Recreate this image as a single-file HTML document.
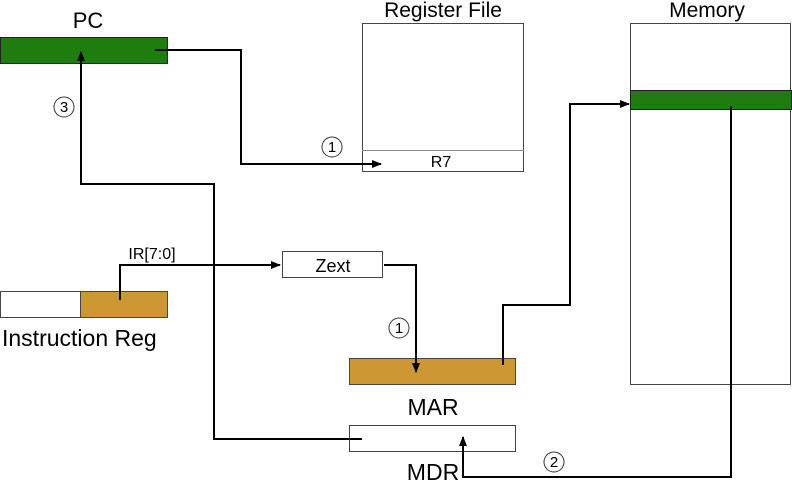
<!DOCTYPE html>
<html><head><meta charset="utf-8"><style>
html,body{margin:0;padding:0;background:#fff;width:792px;height:480px;overflow:hidden}
text{font-family:"Liberation Sans",sans-serif;fill:#000}
</style></head><body>
<svg width="792" height="480" viewBox="0 0 792 480" xmlns="http://www.w3.org/2000/svg">
<defs><marker id="a" markerWidth="10" markerHeight="8" refX="9" refY="4" orient="auto" markerUnits="userSpaceOnUse"><path d="M0,0 L10,4 L0,8 Z" fill="#000"/></marker></defs>
<text x="88" y="28" font-size="22" text-anchor="middle">PC</text>
<rect x="0.5" y="37.5" width="167" height="26" fill="#1e7d0e" stroke="#222"/>
<text x="443" y="17" font-size="21" text-anchor="middle">Register File</text>
<rect x="362.5" y="23.5" width="161" height="148" fill="#fff" stroke="#444"/>
<line x1="362" y1="150.5" x2="524" y2="150.5" stroke="#888"/>
<text x="441" y="167" font-size="16" text-anchor="middle">R7</text>
<text x="707" y="17" font-size="21" text-anchor="middle">Memory</text>
<rect x="630.5" y="23.5" width="160" height="361" fill="#fff" stroke="#444"/>
<rect x="630.5" y="90.5" width="161" height="19" fill="#1e7d0e" stroke="#222"/>
<rect x="0.5" y="291.5" width="80" height="26" fill="#fff" stroke="#444"/>
<rect x="80.5" y="291.5" width="87" height="26" fill="#cd9733" stroke="#444"/>
<text x="2" y="346" font-size="23">Instruction Reg</text>
<rect x="282.5" y="251.5" width="100" height="26" fill="#fff" stroke="#444"/>
<text x="333" y="272" font-size="18" text-anchor="middle">Zext</text>
<rect x="349.5" y="358.5" width="166" height="26" fill="#cd9733" stroke="#444"/>
<text x="433" y="415" font-size="23" text-anchor="middle">MAR</text>
<rect x="349.5" y="425.5" width="166" height="26" fill="#fff" stroke="#444"/>
<text x="433" y="480" font-size="23" text-anchor="middle">MDR</text>
<g fill="none" stroke="#000" stroke-width="2">
<polyline points="155,50 241,50 241,164 381,164" marker-end="url(#a)"/>
<polyline points="362,439 214,439 214,184 81,184 81,52" marker-end="url(#a)"/>
<polyline points="120,300 120,265 280,265" marker-end="url(#a)"/>
<polyline points="384,265 416,265 416,372" marker-end="url(#a)"/>
<polyline points="503,365 503,305 570,305 570,104 629,104" marker-end="url(#a)"/>
<polyline points="731,106 731,477 463,477 463,437" marker-end="url(#a)"/>
</g>
<g fill="#fff" stroke="#333" stroke-width="1">
<circle cx="64" cy="107" r="10"/><circle cx="332" cy="147" r="10"/>
<circle cx="399" cy="328" r="10"/><circle cx="554" cy="462" r="10"/>
</g>
<g font-size="15" text-anchor="middle">
<text x="64" y="112">3</text><text x="332" y="152">1</text>
<text x="399" y="333">1</text><text x="554" y="467">2</text>
</g>
<text x="152" y="259" font-size="16" text-anchor="middle">IR[7:0]</text>
</svg>
</body></html>
